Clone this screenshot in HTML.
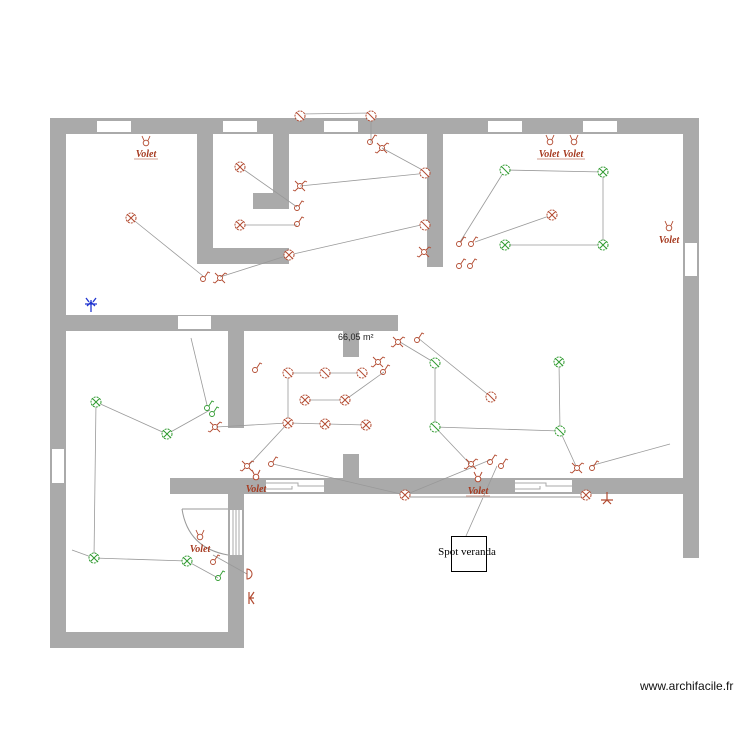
<!DOCTYPE html>
<html><head><meta charset="utf-8"><style>
html,body{margin:0;padding:0;background:#fff;width:750px;height:750px;overflow:hidden}
svg{display:block}
</style></head><body>
<svg width="750" height="750" viewBox="0 0 750 750" xmlns="http://www.w3.org/2000/svg">
<defs>
<g id="lx"><circle r="5" fill="#fff" stroke="#b24a30" stroke-width="1" stroke-dasharray="2 1"/><path d="M-3.5,-3.5L3.5,3.5M3.5,-3.5L-3.5,3.5" stroke="#b24a30" stroke-width="1"/></g>
<g id="ls"><circle r="5" fill="#fff" stroke="#b24a30" stroke-width="1" stroke-dasharray="2 1"/><path d="M-3.5,-3.5L3.5,3.5" stroke="#b24a30" stroke-width="1"/></g>
<g id="gx"><circle r="5" fill="#fff" stroke="#2f9a2f" stroke-width="1" stroke-dasharray="2 1"/><path d="M-3.5,-3.5L3.5,3.5M3.5,-3.5L-3.5,3.5" stroke="#2f9a2f" stroke-width="1"/></g>
<g id="gs"><circle r="5" fill="#fff" stroke="#2f9a2f" stroke-width="1" stroke-dasharray="2 1"/><path d="M-3.5,-3.5L3.5,3.5" stroke="#2f9a2f" stroke-width="1"/></g>
<g id="sw" fill="none" stroke="#b24a30" stroke-width="0.9"><circle r="2.5" cx="0" cy="2"/><path d="M1.8,0L5,-5L7,-4"/></g>
<g id="gsw" fill="none" stroke="#2f9a2f" stroke-width="0.9"><circle r="2.5" cx="0" cy="2"/><path d="M1.8,0L5,-5L7,-4"/></g>
<g id="dw" fill="none" stroke="#b24a30" stroke-width="0.9"><circle r="2.5"/><path d="M2,-2L5,-5L7,-4M-2,2L-5,5L-7,4M-2,-2L-5,-5M2,2L5,5"/></g>
<g id="vs" fill="none" stroke="#b24a30" stroke-width="0.9"><circle r="2.8" cy="2"/><path d="M-2,-0.5L-4,-5M2,-0.5L4,-5"/></g>
</defs>
<g fill="#aaaaaa">
<rect x="50" y="118" width="649" height="16"/>
<rect x="50" y="118" width="16" height="530"/>
<rect x="683" y="118" width="16" height="440"/>
<rect x="50" y="632" width="194" height="16"/>
<rect x="228" y="478" width="16" height="170"/>
<rect x="170" y="478" width="529" height="16"/>
<rect x="50" y="315" width="348" height="16"/>
<rect x="228" y="315" width="16" height="113"/>
<rect x="343" y="331" width="16" height="26"/>
<rect x="343" y="454" width="16" height="24"/>
<rect x="197" y="118" width="16" height="146"/>
<rect x="197" y="248" width="92" height="16"/>
<rect x="273" y="118" width="16" height="91"/>
<rect x="253" y="193" width="36" height="16"/>
<rect x="427" y="118" width="16" height="149"/>
</g>
<g fill="#fff">
<rect x="97" y="121" width="34" height="11"/>
<rect x="223" y="121" width="34" height="11"/>
<rect x="324" y="121" width="34" height="11"/>
<rect x="488" y="121" width="34" height="11"/>
<rect x="583" y="121" width="34" height="11"/>
<rect x="685" y="243" width="12" height="33"/>
<rect x="52" y="449" width="12" height="34"/>
<rect x="178" y="316" width="33" height="13"/>
<rect x="266" y="480" width="58" height="12"/>
<rect x="515" y="480" width="57" height="12"/>
<rect x="230" y="510" width="12" height="45"/>
</g>
<g stroke="#aaa" stroke-width="1" fill="none">
<path d="M266,483H298V486H324M266,489H292V486M515,483H546V486H572M515,489H540V486"/>
<path d="M233,510V555M236,510V555M239,510V555"/>
<path d="M182,509H228M182,509Q188,548 228,555" stroke="#999"/>
</g>
<g stroke="#999" stroke-width="0.8" fill="none">
<path d="M300,114L371,113L371,143"/>
<path d="M382,148L428,173L300,186M428,173L428,225"/>
<path d="M240,167L297,207M240,225L297,225M289,255L220,277M131,218L203,276M289,255L421,225"/>
<path d="M505,170L460,242M505,170L603,172L603,245L505,245M552,215L475,242"/>
<path d="M96,402L167,434L210,410M191,338L207,405M96,402L94,558L187,561L218,578M72,550L94,558M213,555L247,574"/>
<path d="M288,373L362,373M305,400L345,400M288,373L288,423L366,425M288,423L216,427M288,423L249,465M345,400L384,372M273,464L405,495"/>
<path d="M400,342L435,363L435,427L560,431L559,362M418,338L491,397M435,427L470,464M560,431L576,466M405,495L490,460M590,466L670,444M497,466L466,536"/>
<path d="M405,497L586,497" stroke="#ccc" stroke-width="2"/>
</g>
<use href="#lx" x="240" y="167"/><use href="#lx" x="240" y="225"/><use href="#lx" x="289" y="255"/>
<use href="#lx" x="131" y="218"/><use href="#ls" x="300" y="116"/><use href="#ls" x="371" y="116"/>
<use href="#ls" x="425" y="173"/><use href="#ls" x="425" y="225"/><use href="#lx" x="552" y="215"/>
<use href="#ls" x="491" y="397"/><use href="#ls" x="288" y="373"/><use href="#ls" x="325" y="373"/>
<use href="#ls" x="362" y="373"/><use href="#lx" x="305" y="400"/><use href="#lx" x="345" y="400"/>
<use href="#lx" x="288" y="423"/><use href="#lx" x="325" y="424"/><use href="#lx" x="366" y="425"/>
<use href="#lx" x="405" y="495"/><use href="#lx" x="586" y="495"/>
<path d="M247,569A5,5 0 0 1 247,579Z" fill="#fff" stroke="#b24a30"/>
<use href="#gs" x="505" y="170"/><use href="#gx" x="603" y="172"/><use href="#gx" x="505" y="245"/><use href="#gx" x="603" y="245"/>
<use href="#gx" x="96" y="402"/><use href="#gx" x="167" y="434"/><use href="#gx" x="94" y="558"/><use href="#gx" x="187" y="561"/>
<use href="#gs" x="435" y="363"/><use href="#gs" x="435" y="427"/><use href="#gx" x="559" y="362"/><use href="#gs" x="560" y="431"/>
<use href="#sw" x="370" y="140"/><use href="#dw" x="382" y="148"/><use href="#dw" x="300" y="186"/>
<use href="#sw" x="297" y="206"/><use href="#sw" x="297" y="222"/><use href="#dw" x="424" y="252"/>
<use href="#sw" x="203" y="277"/><use href="#dw" x="220" y="278"/>
<use href="#sw" x="459" y="242"/><use href="#sw" x="471" y="242"/><use href="#sw" x="459" y="264"/><use href="#sw" x="470" y="264"/>
<use href="#sw" x="255" y="368"/><use href="#dw" x="398" y="342"/><use href="#sw" x="417" y="338"/>
<use href="#dw" x="378" y="362"/><use href="#sw" x="383" y="370"/>
<use href="#gsw" x="207" y="406"/><use href="#gsw" x="212" y="412"/><use href="#dw" x="215" y="427"/>
<use href="#dw" x="247" y="466"/><use href="#sw" x="271" y="462"/>
<use href="#dw" x="471" y="464"/><use href="#sw" x="490" y="460"/><use href="#sw" x="501" y="464"/>
<use href="#dw" x="577" y="468"/><use href="#sw" x="592" y="466"/>
<use href="#sw" x="213" y="560"/><use href="#gsw" x="218" y="576"/>
<use href="#vs" x="146" y="141"/><use href="#vs" x="550" y="140"/><use href="#vs" x="574" y="140"/>
<use href="#vs" x="669" y="226"/><use href="#vs" x="200" y="535"/>
<circle cx="256" cy="477" r="2.8" fill="#fff" stroke="#b24a30"/><path d="M254,474L252,470M258,474L260,470" stroke="#b24a30"/>
<circle cx="478" cy="479" r="2.8" fill="#fff" stroke="#b24a30"/><path d="M476,476L474,472M480,476L482,472" stroke="#b24a30"/>
<path d="M249,592V604M249,598H254M254,592L250,598L254,604" stroke="#b24a30" fill="none" stroke-width="1.2"/>
<path d="M607,492V500M601,500H613M603,504L607,500L611,504" stroke="#b24a30" fill="none" stroke-width="1.2"/>
<g stroke="#2035d0" fill="none" stroke-width="1.3"><path d="M91,300V312M85,304H97M86,298L89,302M96,298L93,302M87,306L91,302L95,306"/></g>
<g font-family="Liberation Serif, serif" font-style="italic" font-weight="bold" font-size="10" fill="#a63a20" text-anchor="middle">
<text x="146" y="157">Volet</text><text x="549" y="157">Volet</text><text x="573" y="157">Volet</text>
<text x="669" y="243">Volet</text><text x="256" y="492">Volet</text><text x="478" y="494">Volet</text><text x="200" y="552">Volet</text>
</g>
<g stroke="#a63a20" stroke-width="0.6"><path d="M134,159H158M537,159H585M466,496H490"/></g>
<text x="338" y="340" font-family="Liberation Sans, sans-serif" font-size="9" fill="#222">66,05 m²</text>
<rect x="451.5" y="536.5" width="35" height="35" fill="none" stroke="#000"/>
<text x="467" y="555" font-family="Liberation Serif, serif" font-size="11" fill="#000" text-anchor="middle">Spot veranda</text>
<text x="640" y="690" font-family="Liberation Sans, sans-serif" font-size="12" fill="#111">www.archifacile.fr</text>
</svg>
</body></html>
